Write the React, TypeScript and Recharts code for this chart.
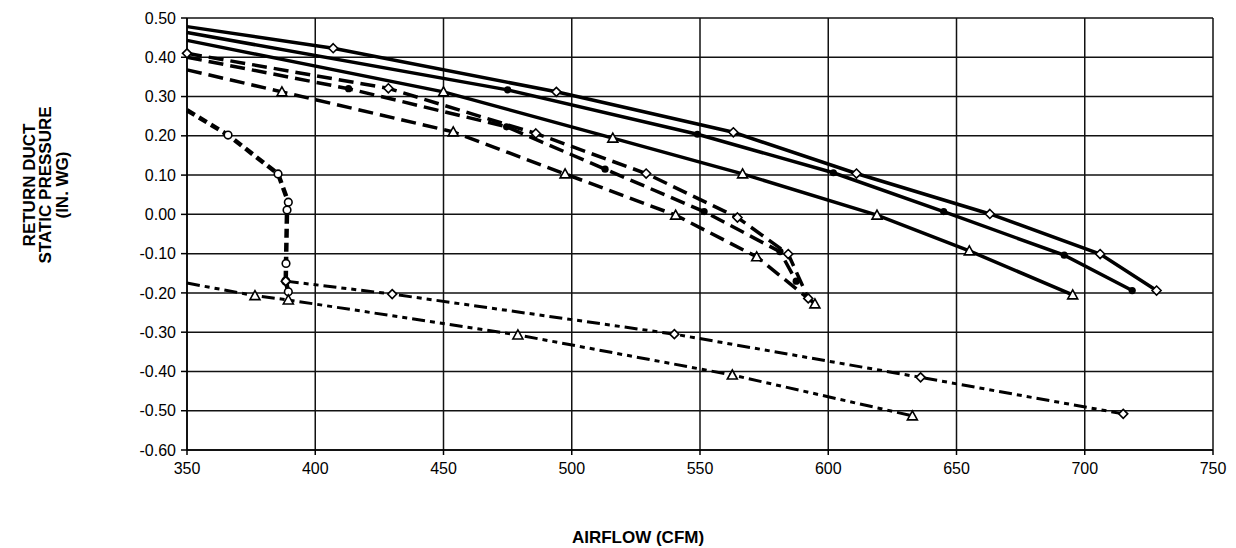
import { LineChart, Line, XAxis, YAxis, CartesianGrid, Label } from 'recharts'

type Pt = [number, number]

const xTicks = [350, 400, 450, 500, 550, 600, 650, 700, 750]
const yTicks = [0.5, 0.4, 0.3, 0.2, 0.1, 0, -0.1, -0.2, -0.3, -0.4, -0.5, -0.6]

// solid runs
const solidDiamond: Pt[] = [
  [350, 0.478], [407, 0.423], [494, 0.312], [563, 0.209], [611, 0.104],
  [663, 0.001], [706, -0.101], [728, -0.194],
]
const solidDot: Pt[] = [
  [350, 0.463], [475, 0.317], [549, 0.204], [602, 0.106], [645, 0.007],
  [692, -0.104], [718.5, -0.194],
]
const solidTriangle: Pt[] = [
  [350, 0.443], [450, 0.312], [516, 0.194], [566.6, 0.103], [619, -0.002],
  [655, -0.093], [695.3, -0.205],
]

// dashed runs
const dashedDiamond: Pt[] = [
  [350, 0.41], [428.5, 0.321], [486, 0.206], [529, 0.104], [564.6, -0.008],
  [584.4, -0.101], [592.2, -0.214],
]
const dashedDot: Pt[] = [
  [350, 0.4], [413, 0.32], [474.6, 0.223], [513, 0.115], [551.6, 0.007],
  [581.2, -0.095], [587.5, -0.17],
]
const dashedTriangle: Pt[] = [
  [350, 0.368], [387, 0.312], [453.8, 0.21], [497.4, 0.103], [540.5, -0.002],
  [572.1, -0.108], [594.8, -0.228],
]

// low runs
const lowDiamond: Pt[] = [
  [388.5, -0.17], [430, -0.203], [540, -0.305], [636, -0.415], [715, -0.508],
]
const lowCircle: Pt[] = [
  [350, 0.265], [366, 0.202], [385.5, 0.103], [389.5, 0.031], [389, 0.011],
  [388.6, -0.125], [388.5, -0.17], [389.5, -0.197],
]
const lowTriangle: Pt[] = [
  [350, -0.175], [376.5, -0.207], [389.5, -0.218], [479, -0.307],
  [562.6, -0.409], [632.8, -0.513],
]

type Marker = 'diamond' | 'triangle' | 'dot' | 'circle'

type Series = {
  id: string
  pts: Pt[]
  width: number
  dash?: string
  marker: Marker
  skipFirst: boolean
}

const series: Series[] = [
  { id: 'lowCircle', pts: lowCircle, width: 4.5, dash: '9 5', marker: 'circle', skipFirst: true },
  { id: 'lowDiamond', pts: lowDiamond, width: 3, dash: '13 5 5 5 5 5', marker: 'diamond', skipFirst: false },
  { id: 'lowTriangle', pts: lowTriangle, width: 3, dash: '13 5 5 5 5 5', marker: 'triangle', skipFirst: true },
  { id: 'dashedTriangle', pts: dashedTriangle, width: 3.5, dash: '15 7', marker: 'triangle', skipFirst: true },
  { id: 'dashedDot', pts: dashedDot, width: 3.5, dash: '15 7', marker: 'dot', skipFirst: true },
  { id: 'dashedDiamond', pts: dashedDiamond, width: 3.5, dash: '15 7', marker: 'diamond', skipFirst: false },
  { id: 'solidTriangle', pts: solidTriangle, width: 3.5, marker: 'triangle', skipFirst: true },
  { id: 'solidDot', pts: solidDot, width: 3.5, marker: 'dot', skipFirst: true },
  { id: 'solidDiamond', pts: solidDiamond, width: 3.5, marker: 'diamond', skipFirst: true },
]

const FONT = '"Liberation Sans", Arial, sans-serif'

function MarkerShape({ kind, cx, cy }: { kind: Marker; cx: number; cy: number }) {
  if (kind === 'diamond') {
    const r = 4.5
    return (
      <path
        d={`M${cx},${cy - r}L${cx + r},${cy}L${cx},${cy + r}L${cx - r},${cy}Z`}
        fill="#fff"
        stroke="#000"
        strokeWidth={1.6}
      />
    )
  }
  if (kind === 'triangle') {
    return (
      <path
        d={`M${cx},${cy - 5}L${cx + 5},${cy + 4}L${cx - 5},${cy + 4}Z`}
        fill="#fff"
        stroke="#000"
        strokeWidth={1.6}
      />
    )
  }
  if (kind === 'circle') {
    return <circle cx={cx} cy={cy} r={3.8} fill="#fff" stroke="#000" strokeWidth={1.6} />
  }
  return <circle cx={cx} cy={cy} r={3.6} fill="#000" />
}

function YTitle() {
  const lines = ['RETURN DUCT', 'STATIC PRESSURE', '(IN. WG)']
  const cy = 177
  return (
    <g>
      {lines.map((t, i) => {
        const cx = 21 + i * 16.5
        return (
          <text
            key={t}
            x={cx}
            y={cy}
            textAnchor="middle"
            dominantBaseline="central"
            transform={`rotate(-90 ${cx} ${cy})`}
            fontFamily={FONT}
            fontWeight="bold"
            fontSize={17}
            fill="#000"
          >
            {t}
          </text>
        )
      })}
    </g>
  )
}

function XTitle() {
  return (
    <text
      x={630}
      y={529}
      textAnchor="middle"
      dominantBaseline="central"
      fontFamily={FONT}
      fontWeight="bold"
      fontSize={17}
      fill="#000"
    >
      AIRFLOW (CFM)
    </text>
  )
}

export default function App() {
  return (
    <LineChart width={1228} height={540} margin={{ top: 10, right: 23, left: 0, bottom: 0 }}>
      <CartesianGrid stroke="#111" strokeWidth={1.5} />
      <XAxis
        type="number"
        dataKey="x"
        domain={[350, 750]}
        ticks={xTicks}
        interval={0}
        height={98}
        tickSize={5}
        tickMargin={8}
        axisLine={{ stroke: '#000', strokeWidth: 1.5 }}
        tickLine={{ stroke: '#000', strokeWidth: 1.5 }}
        tick={{ fill: '#000', fontSize: 16, fontFamily: FONT }}
      >
        <Label content={() => <XTitle />} />
      </XAxis>
      <YAxis
        type="number"
        dataKey="y"
        domain={[-0.6, 0.5]}
        ticks={yTicks}
        interval={0}
        width={179}
        tickSize={6}
        tickMargin={5}
        tickFormatter={(v: number) => v.toFixed(2)}
        axisLine={{ stroke: '#000', strokeWidth: 1.5 }}
        tickLine={{ stroke: '#000', strokeWidth: 1.5 }}
        tick={{ fill: '#000', fontSize: 16, fontFamily: FONT }}
      >
        <Label content={() => <YTitle />} />
      </YAxis>
      {series.map((s) => (
        <Line
          key={s.id}
          data={s.pts.map(([x, y]) => ({ x, y }))}
          dataKey="y"
          type="linear"
          stroke="#000"
          strokeWidth={s.width}
          strokeDasharray={s.dash}
          activeDot={false}
          isAnimationActive={false}
          dot={(p: any) =>
            s.skipFirst && p.index === 0 ? (
              <g key={`${s.id}-${p.index}`} />
            ) : (
              <MarkerShape key={`${s.id}-${p.index}`} kind={s.marker} cx={p.cx} cy={p.cy} />
            )
          }
        />
      ))}
    </LineChart>
  )
}
